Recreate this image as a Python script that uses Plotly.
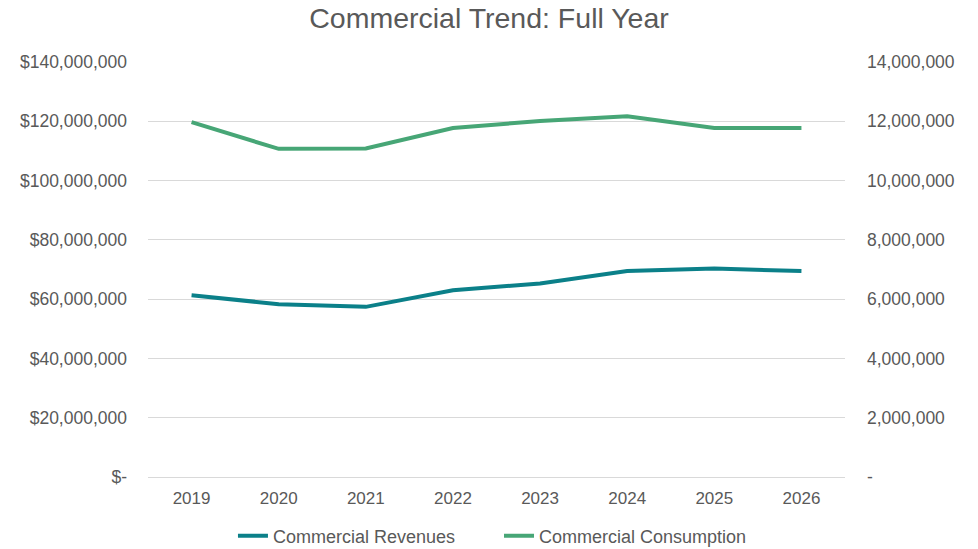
import plotly.graph_objects as go

years = ["2019", "2020", "2021", "2022", "2023", "2024", "2025", "2026"]
revenues = [61300000, 58300000, 57400000, 63000000, 65300000, 69500000, 70300000, 69500000]
consumption = [11970000, 11070000, 11080000, 11770000, 12010000, 12170000, 11770000, 11770000]

left_ticks = [0, 20e6, 40e6, 60e6, 80e6, 100e6, 120e6, 140e6]
left_text = ["$-", "$20,000,000", "$40,000,000", "$60,000,000", "$80,000,000",
             "$100,000,000", "$120,000,000", "$140,000,000"]
right_ticks = [0, 2e6, 4e6, 6e6, 8e6, 10e6, 12e6, 14e6]
right_text = ["-", "2,000,000", "4,000,000", "6,000,000", "8,000,000",
              "10,000,000", "12,000,000", "14,000,000"]

font_family = "Liberation Sans, Arial, sans-serif"
txt = "#595959"

fig = go.Figure()
fig.add_trace(go.Scatter(x=years, y=revenues, name="Commercial Revenues", mode="lines",
                         line=dict(color="#0B8089", width=4), yaxis="y", legend="legend"))
fig.add_trace(go.Scatter(x=years, y=consumption, name="Commercial Consumption", mode="lines",
                         line=dict(color="#47A676", width=4), yaxis="y2", legend="legend2"))

leg_common = dict(orientation="h", y=-0.142, yanchor="middle", xanchor="left",
                  font=dict(size=18, color=txt), bgcolor="rgba(0,0,0,0)")

fig.update_layout(
    width=978, height=549,
    margin=dict(l=148, r=133, t=62, b=72, autoexpand=False),
    paper_bgcolor="white", plot_bgcolor="white",
    font=dict(family=font_family, color=txt, size=17),
    title=dict(text="Commercial Trend: Full Year", x=0.5, xanchor="center",
               y=0.967, yanchor="middle", font=dict(size=28.5, color=txt)),
    xaxis=dict(type="category", range=[-0.5, 7.5], showgrid=False, showline=False,
               zeroline=False, tickfont=dict(size=17, color=txt), ticks="",
               ticklabelstandoff=9),
    yaxis=dict(range=[0, 140e6], tickvals=left_ticks, ticktext=left_text,
               showgrid=True, gridcolor="#D9D9D9", gridwidth=1, zeroline=True,
               zerolinecolor="#D9D9D9", zerolinewidth=1,
               showline=False, tickfont=dict(size=17.5, color=txt), ticklabelstandoff=20),
    yaxis2=dict(range=[0, 14e6], tickvals=right_ticks, ticktext=right_text,
                overlaying="y", side="right", showgrid=False, zeroline=False,
                showline=False, tickfont=dict(size=17.5, color=txt), ticklabelstandoff=21),
    legend=dict(x=0.1219, **leg_common),
    legend2=dict(x=0.5036, **leg_common),
    showlegend=True,
)

fig.write_html("out.html")
